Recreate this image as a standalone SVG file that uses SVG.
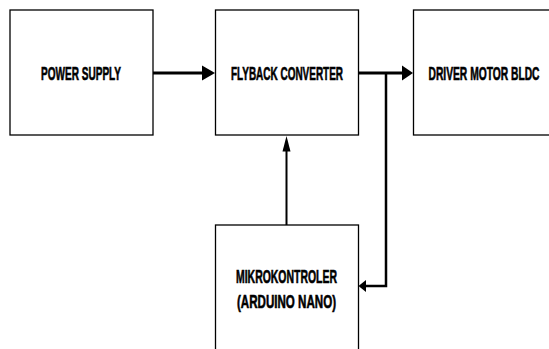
<svg xmlns="http://www.w3.org/2000/svg" width="549" height="349" viewBox="0 0 549 349">
<style>
.box{fill:#fff;stroke:#000;stroke-width:1.3}
.lbl{font-family:"Liberation Sans Narrow","Liberation Sans",Arial,sans-serif;font-weight:bold;font-size:18px;fill:#000;stroke:#000;stroke-width:0.6;text-anchor:middle}
.wire{fill:none;stroke:#000;stroke-width:3}
.head{fill:#000;stroke:none}
</style>
<rect x="0" y="0" width="549" height="349" fill="#fff"/>
<g id="power-supply">
<rect class="box" x="10" y="10" width="143" height="125"/>
<text class="lbl" x="81" y="79.5" textLength="80" lengthAdjust="spacingAndGlyphs">POWER SUPPLY</text>
</g>
<g id="flyback-converter">
<rect class="box" x="215.5" y="10" width="143" height="125"/>
<text class="lbl" x="287" y="79.5" textLength="112" lengthAdjust="spacingAndGlyphs">FLYBACK CONVERTER</text>
</g>
<g id="driver-motor">
<rect class="box" x="413.5" y="10" width="146" height="125"/>
<text class="lbl" x="484" y="79.5" textLength="111" lengthAdjust="spacingAndGlyphs">DRIVER MOTOR BLDC</text>
</g>
<g id="mikrokontroler">
<rect class="box" x="215.5" y="225" width="143" height="135"/>
<text class="lbl" x="286.5" y="283" textLength="101" lengthAdjust="spacingAndGlyphs">MIKROKONTROLER</text>
<text class="lbl" x="286.5" y="308" textLength="99" lengthAdjust="spacingAndGlyphs">(ARDUINO NANO)</text>
</g>
<g id="connectors">
<path class="wire" d="M153,73 H204"/>
<polygon class="head" points="202,65.5 215,73 202,80.5"/>
<path class="wire" d="M358.5,73 H404"/>
<polygon class="head" points="402,65.5 413,73 402,80.5"/>
<path class="wire" style="stroke-width:2.5" d="M386,73 V286 H364"/>
<polygon class="head" points="366,280 358.5,286 366,292"/>
<path class="wire" style="stroke-width:2" d="M286.5,225 V149"/>
<polygon class="head" points="282.5,151.5 286.5,136 290.5,151.5"/>
</g>
</svg>
